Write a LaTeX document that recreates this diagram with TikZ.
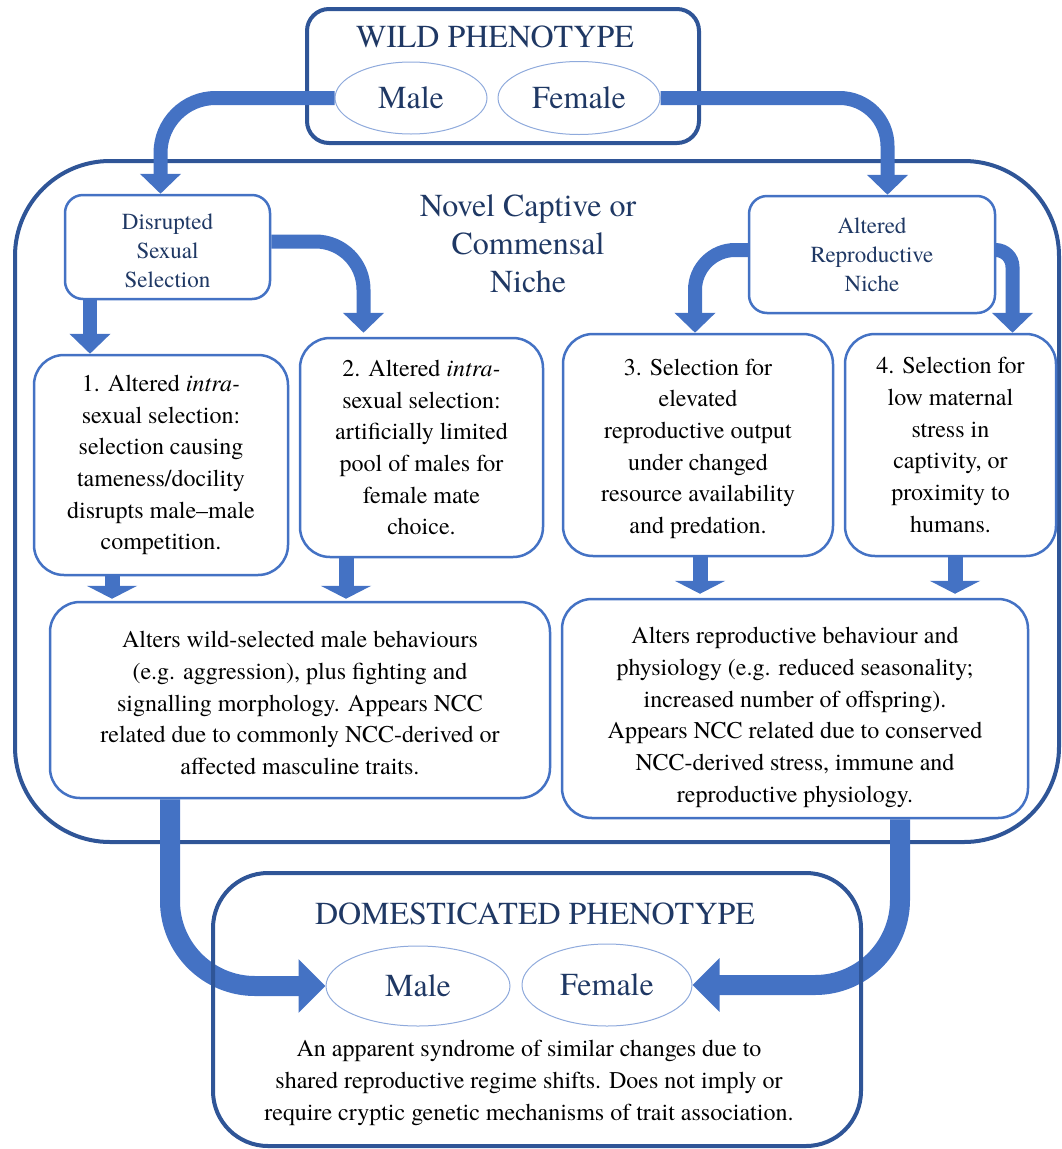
\documentclass[tikz,border=0pt]{standalone}
\usepackage{fontspec}
\IfFontExistsTF{texgyretermes-regular.otf}
  {\setmainfont{texgyretermes}[Extension=.otf,UprightFont=*-regular,ItalicFont=*-italic,BoldFont=*-bold,BoldItalicFont=*-bolditalic]}
  {\setmainfont{DejaVu Serif}}
\usetikzlibrary{arrows.meta,shapes.geometric}
\definecolor{arrblue}{HTML}{4472C4}
\definecolor{darkb}{HTML}{2F5597}
\definecolor{navy}{HTML}{1F3864}
\definecolor{ellb}{HTML}{8FAADC}
\newcommand{\lowerby}[1]{\rule{0pt}{#1}}
\begin{document}
\begin{tikzpicture}[x=1pt,y=-1pt,
  frame/.style={draw=darkb, line width=4pt, rectangle, inner sep=0pt},
  titletext/.style={text=navy, font=\fontsize{32}{38}\selectfont, inner sep=0pt},
  nichetext/.style={text=navy, font=\fontsize{32}{38}\selectfont, align=center, inner sep=0pt},
  sexell/.style={ellipse, draw=ellb, line width=1pt, fill=white, inner sep=0pt, text=navy, font=\fontsize{32}{38}\selectfont},
  headbox/.style={rectangle, draw=arrblue, line width=2.5pt, fill=white, rounded corners=18pt, align=center, text=navy, font=\fontsize{23}{29}\selectfont},
  bodybox/.style={rectangle, draw=arrblue, line width=2.5pt, fill=white, rounded corners=30pt, align=center, text=black, font=\fontsize{24}{31.7}\selectfont},
  plaintext/.style={align=center, text=black, font=\fontsize{24}{31.7}\selectfont, inner sep=0pt},
  flowA/.style={draw=arrblue, line width=14pt, -{Triangle[width=40pt,length=20pt]}},
  flowB/.style={draw=arrblue, line width=15pt, -{Triangle[width=50pt,length=13pt]}},
  flowC/.style={draw=arrblue, line width=20pt, -{Triangle[width=52pt,length=27pt]}}
]
\useasboundingbox (0,0) rectangle (1062,1149);

% frames
\node[frame, rounded corners=95pt, minimum width=1044pt, minimum height=681pt] (niche) at (537,501.5) {};
\node[frame, rounded corners=22pt, minimum width=392pt, minimum height=134pt] (wild) at (503,76) {};

% titles
\node[titletext, anchor=base] (wildt) at (495,47) {WILD PHENOTYPE};
\node[titletext, anchor=base] (domt) at (535,924) {DOMESTICATED PHENOTYPE};
\node[nichetext] (nichet) at (528,244) {Novel Captive or\\Commensal\\Niche};

% ellipses
\node[sexell, minimum width=152pt, minimum height=72pt] (wm) at (411,98) {Male};
\node[sexell, minimum width=162pt, minimum height=73pt] (wf) at (579,98) {Female};
\node[sexell, minimum width=184pt, minimum height=80pt] (dm) at (418,986) {Male};
\node[sexell, minimum width=170pt, minimum height=82pt] (df) at (607,985) {Female};

% boxes
\node[headbox, minimum width=205pt, minimum height=104pt] (dss) at (167.5,247) {\lowerby{23pt}Disrupted\\Sexual\\Selection};
\node[headbox, minimum width=246pt, minimum height=117pt] (arn) at (872,254.5) {Altered\\Reproductive\\Niche};
\node[bodybox, minimum width=254pt, minimum height=220pt] (b1) at (161,465) {1. Altered \textit{intra-}\\sexual selection:\\selection causing\\tameness/docility\\disrupts male–male\\competition.};
\node[bodybox, minimum width=243pt, minimum height=219pt] (b2) at (421.5,447.5) {2. Altered \textit{intra-}\\sexual selection:\\artificially limited\\pool of males for\\female mate\\choice.};
\node[bodybox, minimum width=270pt, minimum height=222pt] (b3) at (698,445) {\lowerby{24pt}3. Selection for\\elevated\\reproductive output\\under changed\\resource availability\\and predation.};
\node[bodybox, minimum width=211pt, minimum height=222pt] (b4) at (950.5,445) {4. Selection for\\low maternal\\stress in\\captivity, or\\proximity to\\humans.};
\node[bodybox, minimum width=500pt, minimum height=196pt] (ll) at (300,700) {\lowerby{22.5pt}Alters wild-selected male behaviours\\(e.g. aggression), plus fighting and\\signalling morphology. Appears NCC\\related due to commonly NCC-derived or\\affected masculine traits.};
\node[bodybox, minimum width=466pt, minimum height=219pt] (lr) at (795,708.5) {\lowerby{34pt}Alters reproductive behaviour and\\physiology (e.g. reduced seasonality;\\increased number of offspring).\\Appears NCC related due to conserved\\NCC-derived stress, immune and\\reproductive physiology.};

% arrows
\draw[flowA, rounded corners=55pt] (wm.west) -| ([xshift=-7pt]dss.north);
\draw[flowA, rounded corners=48pt] (wf.east) -| ([xshift=15.5pt]arn.north);
\draw[flowA] ([xshift=-77.5pt]dss.south) -- ([xshift=-77.5pt]dss.south |- b1.north);
\draw[flowA, rounded corners=48pt, shorten >=4pt] ([yshift=5.5pt]dss.east) -| ([xshift=-58pt]b2.north);
\draw[flowA, rounded corners=40pt] ([yshift=4.5pt]arn.west) -| ([xshift=-3pt]b3.north);
\draw[flowA, rounded corners=17pt] ([yshift=4.5pt]arn.east) -| ([xshift=62pt]b4.north);

\draw[flowB, shorten >=2pt] ([xshift=-49pt]b1.south) -- ([xshift=-49pt]b1.south |- ll.north);
\draw[flowB, shorten >=2pt] ([xshift=-75.5pt]b2.south) -- ([xshift=-75.5pt]b2.south |- ll.north);
\draw[flowB, shorten >=4pt] ([xshift=2pt]b3.south) -- ([xshift=2pt]b3.south |- lr.north);
\draw[flowB, shorten >=4pt] ([xshift=4.5pt]b4.south) -- ([xshift=4.5pt]b4.south |- lr.north);

\draw[flowC, rounded corners=85pt] ([xshift=-130pt]ll.south) |- (dm.west);
\draw[flowC, rounded corners=85pt] ([xshift=105pt]lr.south) |- (df.east);

% domesticated frame on top
\node[frame, rounded corners=55pt, minimum width=648pt, minimum height=273pt] (dom) at (537,1009.5) {};
\node[plaintext] (domtext) at (529,1083) {An apparent syndrome of similar changes due to\\shared reproductive regime shifts. Does not imply or\\require cryptic genetic mechanisms of trait association.};
\end{tikzpicture}
\end{document}
